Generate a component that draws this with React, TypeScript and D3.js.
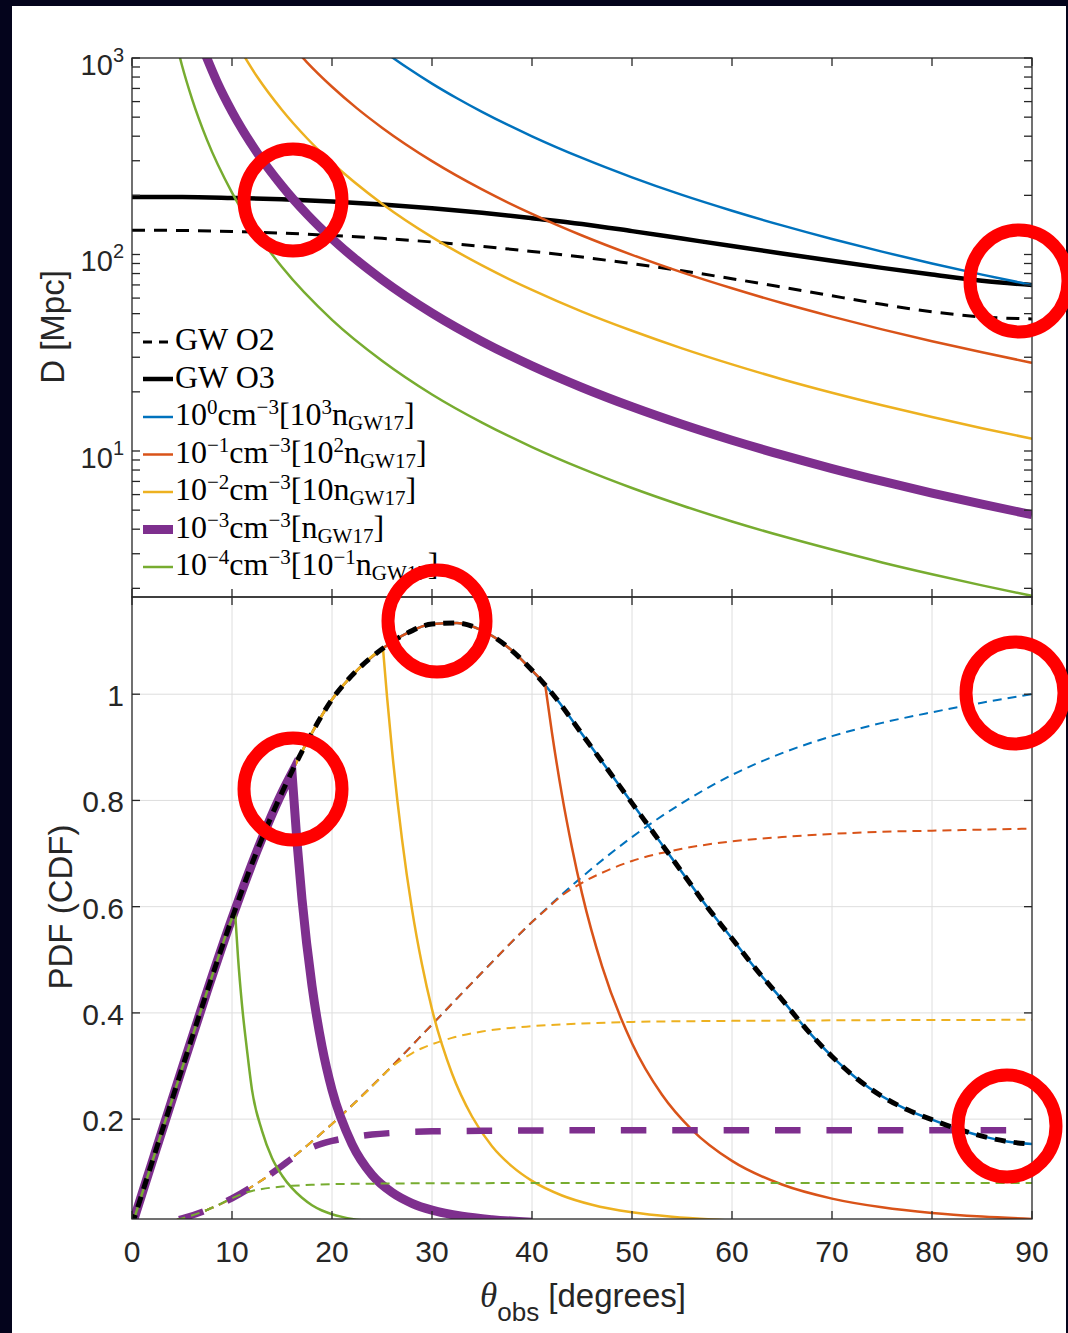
import React, { useRef, useEffect } from 'react';
import * as d3 from 'd3';

type Pt = [number, number];

// ---------------- data ----------------

const thetaTicks = [0, 10, 20, 30, 40, 50, 60, 70, 80, 90];
const pdfTicks = [0.2, 0.4, 0.6, 0.8, 1];
const pdfTickLabels = ['0.2', '0.4', '0.6', '0.8', '1'];

// top panel: GW horizon distance [Mpc] vs viewing angle
const theta5 = [0, 5, 10, 15, 20, 25, 30, 35, 40, 45, 50, 55, 60, 65, 70, 75, 80, 85, 90];
const gwO3Dist = [196, 196, 194, 191, 186, 179.5, 172, 163, 153, 143, 131.5, 120.5, 110.4, 101.2, 92.9, 85.5, 79.1, 73.5, 70];
const gwO2Dist = [133, 132.5, 131, 128.5, 125, 120.8, 115.8, 110, 103.7, 97, 89.8, 82.6, 75.3, 68.2, 61.6, 55.8, 51.1, 48.1, 47];

// top panel: afterglow detection distance [Mpc] for each ISM density
const dist1e0: Pt[] = [[25, 1097], [27.5, 894], [30, 741], [32.5, 624], [35, 532], [40, 399.5], [45, 310], [50, 247], [55, 201], [60, 167], [65, 140.6], [70, 119.9], [75, 103.4], [80, 90], [85, 79], [90, 69.9]];
const dist1em1: Pt[] = [[15, 1325], [17.5, 951], [20, 714], [22.5, 554], [25, 442], [30, 298.6], [35, 214.4], [40, 160.9], [45, 124.9], [50, 99.6], [55, 81.1], [60, 67.3], [65, 56.6], [70, 48.3], [75, 41.6], [80, 36.2], [85, 31.8], [90, 28.1]];
const dist1em2: Pt[] = [[10, 1300], [12.5, 805], [15, 543.8], [17.5, 390.5], [20, 292.9], [25, 181.4], [30, 122.6], [35, 88], [40, 66], [45, 51.2], [50, 40.9], [55, 33.3], [60, 27.6], [65, 23.2], [70, 19.8], [75, 17.1], [80, 14.9], [85, 13.05], [90, 11.55]];
const dist1em3: Pt[] = [[7, 1150], [8.5, 757], [10, 534], [12.5, 330.6], [15, 223.4], [17.5, 160.3], [20, 120.3], [22.5, 93.4], [25, 74.5], [30, 50.3], [35, 36.1], [40, 27.1], [45, 21.05], [50, 16.78], [55, 13.67], [60, 11.34], [65, 9.55], [70, 8.14], [75, 7.02], [80, 6.11], [85, 5.36], [90, 4.74]];
const dist1em4: Pt[] = [[4.5, 1149], [5, 916], [6, 620], [7.5, 383], [10, 206.4], [12.5, 127.7], [15, 86.3], [20, 46.5], [25, 28.8], [30, 19.4], [35, 13.95], [40, 10.47], [45, 8.13], [50, 6.48], [55, 5.28], [60, 4.38], [65, 3.69], [70, 3.15], [75, 2.71], [80, 2.36], [85, 2.07], [90, 1.83]];

// bottom panel: PDF of the viewing angle for GW-detected events
const theta2p5 = [0, 2.5, 5, 7.5, 10, 12.5, 15, 17.5, 20, 22.5, 25, 27.5, 30, 32.5, 35, 37.5, 40, 42.5, 45, 47.5, 50, 52.5, 55, 57.5, 60, 62.5, 65, 67.5, 70, 72.5, 75, 77.5, 80, 82.5, 85, 87.5, 90];
const pdfGW = [0, 0.148, 0.295, 0.44, 0.578, 0.705, 0.815, 0.91, 0.99, 1.045, 1.085, 1.115, 1.132, 1.134, 1.12, 1.09, 1.045, 0.99, 0.925, 0.86, 0.795, 0.73, 0.665, 0.6, 0.54, 0.48, 0.425, 0.368, 0.318, 0.276, 0.243, 0.218, 0.199, 0.182, 0.168, 0.158, 0.153];
// and its CDF
const cdfGW: Pt[] = [[0, 0], [2.5, 0.0032], [5, 0.013], [7.5, 0.029], [10, 0.051], [12.5, 0.079], [15, 0.112], [17.5, 0.15], [20, 0.191], [25, 0.281], [30, 0.378], [35, 0.476], [40, 0.571], [45, 0.656], [50, 0.731], [55, 0.795], [60, 0.848], [65, 0.889], [70, 0.921], [75, 0.946], [80, 0.966], [85, 0.984], [90, 1.0]];

// PDF after each density's cut-off angle
const pdfDrop1em1: Pt[] = [[41.3, 1.02], [42, 0.927], [43, 0.81], [44, 0.711], [45, 0.625], [47, 0.488], [50, 0.343], [53, 0.246], [56, 0.18], [60, 0.1214], [65, 0.0769], [70, 0.0504], [75, 0.034], [80, 0.0235], [85, 0.0167], [90, 0.012]];
const pdfDrop1em2: Pt[] = [[25.1, 1.086], [25.5, 0.996], [26, 0.895], [27, 0.727], [28, 0.595], [29, 0.491], [30, 0.407], [32, 0.286], [34, 0.205], [36, 0.149], [38, 0.111], [40, 0.0837], [43, 0.0563], [46, 0.0388], [50, 0.0245], [54, 0.0161], [58, 0.0109], [62, 0.0075]];
const pdfDrop1em3: Pt[] = [[16, 0.852], [16.5, 0.722], [17, 0.614], [18, 0.451], [19, 0.337], [20, 0.255], [22, 0.153], [24, 0.095], [26, 0.062], [28, 0.0415], [30, 0.0286], [33, 0.0171], [36, 0.0107], [40, 0.006]];
const pdfDrop1em4: Pt[] = [[10.3, 0.592], [10.6, 0.505], [11, 0.415], [11.5, 0.33], [12, 0.255], [13, 0.178], [14, 0.127], [15, 0.094], [16, 0.07], [17, 0.052], [18, 0.038], [19, 0.028], [20, 0.021], [21, 0.016], [22, 0.012], [24, 0.008]];

// CDF after each cut-off angle
const cdfTail1em1: Pt[] = [[41.3, 0.593], [43, 0.621], [45, 0.645], [47.5, 0.668], [50, 0.686], [55, 0.709], [60, 0.723], [65, 0.731], [70, 0.737], [75, 0.741], [80, 0.743], [85, 0.745], [90, 0.747]];
const cdfTail1em2: Pt[] = [[25.1, 0.283], [25.5, 0.29], [26, 0.2985], [27, 0.3125], [28, 0.324], [29, 0.3335], [30, 0.341], [32, 0.353], [35, 0.365], [40, 0.375], [45, 0.38], [50, 0.383], [60, 0.385], [70, 0.386], [90, 0.387]];
const cdfTail1em3: Pt[] = [[16, 0.126], [17, 0.138], [18, 0.147], [19, 0.154], [20, 0.159], [22, 0.166], [24, 0.171], [27, 0.175], [30, 0.177], [35, 0.178], [45, 0.179], [90, 0.179]];
const cdfTail1em4: Pt[] = [[10.3, 0.0535], [11, 0.059], [12, 0.0648], [13, 0.0685], [14, 0.0711], [15, 0.073], [16, 0.0744], [18, 0.0763], [20, 0.0775], [25, 0.0787], [30, 0.0793], [45, 0.0797], [90, 0.08]];

// legend text pieces
type Seg = { t: string; s?: 'sup' | 'sub' };
const legendLabels: Seg[][] = [
  [{ t: 'GW O2' }],
  [{ t: 'GW O3' }],
  [{ t: '10' }, { t: '0', s: 'sup' }, { t: 'cm' }, { t: '\u22123', s: 'sup' }, { t: '[10' }, { t: '3', s: 'sup' }, { t: 'n' }, { t: 'GW17', s: 'sub' }, { t: ']' }],
  [{ t: '10' }, { t: '\u22121', s: 'sup' }, { t: 'cm' }, { t: '\u22123', s: 'sup' }, { t: '[10' }, { t: '2', s: 'sup' }, { t: 'n' }, { t: 'GW17', s: 'sub' }, { t: ']' }],
  [{ t: '10' }, { t: '\u22122', s: 'sup' }, { t: 'cm' }, { t: '\u22123', s: 'sup' }, { t: '[10n' }, { t: 'GW17', s: 'sub' }, { t: ']' }],
  [{ t: '10' }, { t: '\u22123', s: 'sup' }, { t: 'cm' }, { t: '\u22123', s: 'sup' }, { t: '[n' }, { t: 'GW17', s: 'sub' }, { t: ']' }],
  [{ t: '10' }, { t: '\u22124', s: 'sup' }, { t: 'cm' }, { t: '\u22123', s: 'sup' }, { t: '[10' }, { t: '\u22121', s: 'sup' }, { t: 'n' }, { t: 'GW17', s: 'sub' }, { t: ']' }],
];

// ---------------- layout / style ----------------

const W = 1068;
const H = 1333;
const L = 132, R = 1032;
const T1 = 58, B1 = 597; // top axes
const T2 = 597, B2 = 1219; // bottom axes
const AX = '#262626';
const SANS = "'Liberation Sans', Arial, sans-serif";
const SERIF = "'Liberation Serif', 'Times New Roman', serif";

// blue, red, yellow, purple, green (MATLAB default order)
const colors = ['#0072BD', '#D95319', '#EDB120', '#7E2F8E', '#77AC30'];
const solidW = [2.5, 2.5, 2.5, 9, 2.5];
const cdfW = [2, 2, 2, 6.5, 2];
const cdfDash = ['9,6', '9,6', '9,6', '25.5,25.9', '9,6'];

// red annotation rings
const rings: Pt[] = [[293, 200], [1019, 281], [437, 621], [293, 789], [1015, 693], [1007, 1126]];

export default function App() {
  const purpleCdfRef = useRef<SVGPathElement>(null);

  const x = d3.scaleLinear().domain([0, 90]).range([L, R]);
  const yD = d3.scaleLog().domain([1.807, 1000]).range([B1, T1]);
  const yP = d3.scaleLinear().domain([0.012, 1.183]).range([B2, T2]);

  const lineD = d3.line<Pt>().x(d => x(d[0])).y(d => yD(d[1])).curve(d3.curveMonotoneX);
  const lineP = d3.line<Pt>().x(d => x(d[0])).y(d => yP(d[1])).curve(d3.curveMonotoneX);

  const o3: Pt[] = theta5.map((t, i) => [t, gwO3Dist[i]]);
  const o2: Pt[] = theta5.map((t, i) => [t, gwO2Dist[i]]);
  const distSeries = [dist1e0, dist1em1, dist1em2, dist1em3, dist1em4];

  const pdfAll: Pt[] = theta2p5.map((t, i) => [t, pdfGW[i]]);
  const drops = [null, pdfDrop1em1, pdfDrop1em2, pdfDrop1em3, pdfDrop1em4];
  const tails = [null, cdfTail1em1, cdfTail1em2, cdfTail1em3, cdfTail1em4];

  // PDF for a density: common curve up to the cut-off, then its own drop (one sub-path, sharp corner)
  const pdfPath = (drop: Pt[] | null) => {
    if (!drop) return lineP(pdfAll) || '';
    const tc = drop[0][0];
    const rise = pdfAll.filter(d => d[0] < tc).concat([drop[0]]);
    const a = lineP(rise) || '';
    const b = (lineP(drop) || '').replace(/^M[^A-Za-z]*/, '');
    return a + b;
  };
  const cdfPath = (tail: Pt[] | null) => {
    if (!tail) return lineP(cdfGW) || '';
    const tc = tail[0][0];
    return lineP(cdfGW.filter(d => d[0] < tc).concat(tail)) || '';
  };

  // thick purple CDF: the dash pattern ends on a gap at 90 deg, as in the reference
  useEffect(() => {
    const p = purpleCdfRef.current;
    if (!p) return;
    const len = p.getTotalLength();
    const period = 25.5 + 25.9;
    p.style.strokeDashoffset = String(period - (len % period));
  }, []);

  const logTicks = yD.ticks();
  const isMajor = (v: number) => Math.abs(Math.log10(v) - Math.round(Math.log10(v))) < 1e-9;
  const tk = 8;
  const off = (s?: string) => (s === 'sup' ? -11 : s === 'sub' ? 5 : 0);

  return (
    <svg width={W} height={H} style={{ position: 'absolute', left: 0, top: 0, display: 'block' }}>
      <defs>
        <clipPath id="clipTop"><rect x={L} y={T1} width={R - L} height={B1 - T1} /></clipPath>
        <clipPath id="clipBot"><rect x={L} y={T2} width={R - L} height={B2 - T2} /></clipPath>
      </defs>
      <rect x={0} y={0} width={W} height={H} fill="#04041c" />
      <rect x={12} y={6} width={1054} height={H - 6} fill="#ffffff" />

      {/* ---------- top panel ---------- */}
      <g clipPath="url(#clipTop)" fill="none">
        <path d={lineD(o2) || ''} stroke="#000" strokeWidth={3} strokeDasharray="13,9" />
        <path d={lineD(o3) || ''} stroke="#000" strokeWidth={4.5} />
        {distSeries.map((s, i) => (
          <path key={i} d={lineD(s) || ''} stroke={colors[i]} strokeWidth={solidW[i]} />
        ))}
      </g>
      <rect x={L} y={T1} width={R - L} height={B1 - T1} fill="none" stroke={AX} strokeWidth={1.3} />
      {thetaTicks.map(t => (
        <g key={t} stroke={AX} strokeWidth={1.3}>
          <line x1={x(t)} x2={x(t)} y1={T1} y2={T1 + tk} />
          <line x1={x(t)} x2={x(t)} y1={B1} y2={B1 - tk} />
        </g>
      ))}
      {logTicks.map(v => (
        <g key={v} stroke={AX} strokeWidth={1.3}>
          <line x1={L} x2={L + tk} y1={yD(v)} y2={yD(v)} />
          <line x1={R} x2={R - tk} y1={yD(v)} y2={yD(v)} />
        </g>
      ))}
      {logTicks.filter(isMajor).map(v => (
        <text key={v} x={124} y={yD(v) + 17} textAnchor="end" fontFamily={SANS} fontSize={29} fill={AX}>
          <tspan>10</tspan>
          <tspan dy={-13} fontSize={20}>{Math.round(Math.log10(v))}</tspan>
        </text>
      ))}
      <text transform={`translate(64,327) rotate(-90)`} textAnchor="middle" fontFamily={SANS} fontSize={33} fill={AX}>D [Mpc]</text>

      {/* legend */}
      <g>
        <line x1={143} x2={173} y1={342} y2={342} stroke="#000" strokeWidth={3} strokeDasharray="9,7" />
        <line x1={143} x2={173} y1={379} y2={379} stroke="#000" strokeWidth={4.5} />
        {colors.map((c, i) => (
          <line key={c} x1={143} x2={173} y1={417 + i * 37.5} y2={417 + i * 37.5} stroke={c} strokeWidth={solidW[i]} />
        ))}
        {legendLabels.map((segs, i) => (
          <text key={i} x={175} y={350 + i * 37.5} fontFamily={SERIF} fontSize={32} fill="#000">
            {segs.map((sg, j) => (
              <tspan key={j} dy={off(sg.s) - (j ? off(segs[j - 1].s) : 0)} fontSize={sg.s ? 21 : 32}>{sg.t}</tspan>
            ))}
          </text>
        ))}
      </g>

      {/* ---------- bottom panel ---------- */}
      <g stroke="#dedede" strokeWidth={1}>
        {thetaTicks.slice(1, -1).map(t => <line key={t} x1={x(t)} x2={x(t)} y1={T2} y2={B2} />)}
        {pdfTicks.map(v => <line key={v} x1={L} x2={R} y1={yP(v)} y2={yP(v)} />)}
      </g>
      <g clipPath="url(#clipBot)" fill="none">
        {colors.map((c, i) => (
          <g key={c}>
            <path d={pdfPath(drops[i])} stroke={c} strokeWidth={solidW[i]} />
            <path
              ref={i === 3 ? purpleCdfRef : undefined}
              d={cdfPath(tails[i])}
              stroke={c}
              strokeWidth={cdfW[i]}
              strokeDasharray={cdfDash[i]}
            />
          </g>
        ))}
        <path d={lineP(pdfAll) || ''} stroke="#000" strokeWidth={5} strokeDasharray="11,8" />
      </g>
      <rect x={L} y={T2} width={R - L} height={B2 - T2} fill="none" stroke={AX} strokeWidth={1.3} />
      {thetaTicks.map(t => (
        <g key={t} stroke={AX} strokeWidth={1.3}>
          <line x1={x(t)} x2={x(t)} y1={B2} y2={B2 - tk} />
          <line x1={x(t)} x2={x(t)} y1={T2} y2={T2 + tk} />
        </g>
      ))}
      {pdfTicks.map(v => (
        <g key={v} stroke={AX} strokeWidth={1.3}>
          <line x1={L} x2={L + tk} y1={yP(v)} y2={yP(v)} />
          <line x1={R} x2={R - tk} y1={yP(v)} y2={yP(v)} />
        </g>
      ))}
      {pdfTicks.map((v, i) => (
        <text key={v} x={124} y={yP(v) + 12} textAnchor="end" fontFamily={SANS} fontSize={30} fill={AX}>{pdfTickLabels[i]}</text>
      ))}
      {thetaTicks.map(t => (
        <text key={t} x={x(t)} y={1262} textAnchor="middle" fontFamily={SANS} fontSize={30} fill={AX}>{t}</text>
      ))}
      <text transform={`translate(72,907) rotate(-90)`} textAnchor="middle" fontFamily={SANS} fontSize={33} fill={AX}>PDF (CDF)</text>
      <text x={583} y={1307} textAnchor="middle" fontFamily={SANS} fontSize={33} fill={AX}>
        <tspan fontFamily={SERIF} fontStyle="italic" fontSize={35}>θ</tspan>
        <tspan fontSize={26} dy={14}>obs</tspan>
        <tspan dy={-14}> [degrees]</tspan>
      </text>

      {/* annotation rings */}
      {rings.map(([cx, cy], i) => (
        <ellipse key={i} cx={cx} cy={cy} rx={49} ry={51} fill="none" stroke="#ff0000" strokeWidth={13} />
      ))}
    </svg>
  );
}
